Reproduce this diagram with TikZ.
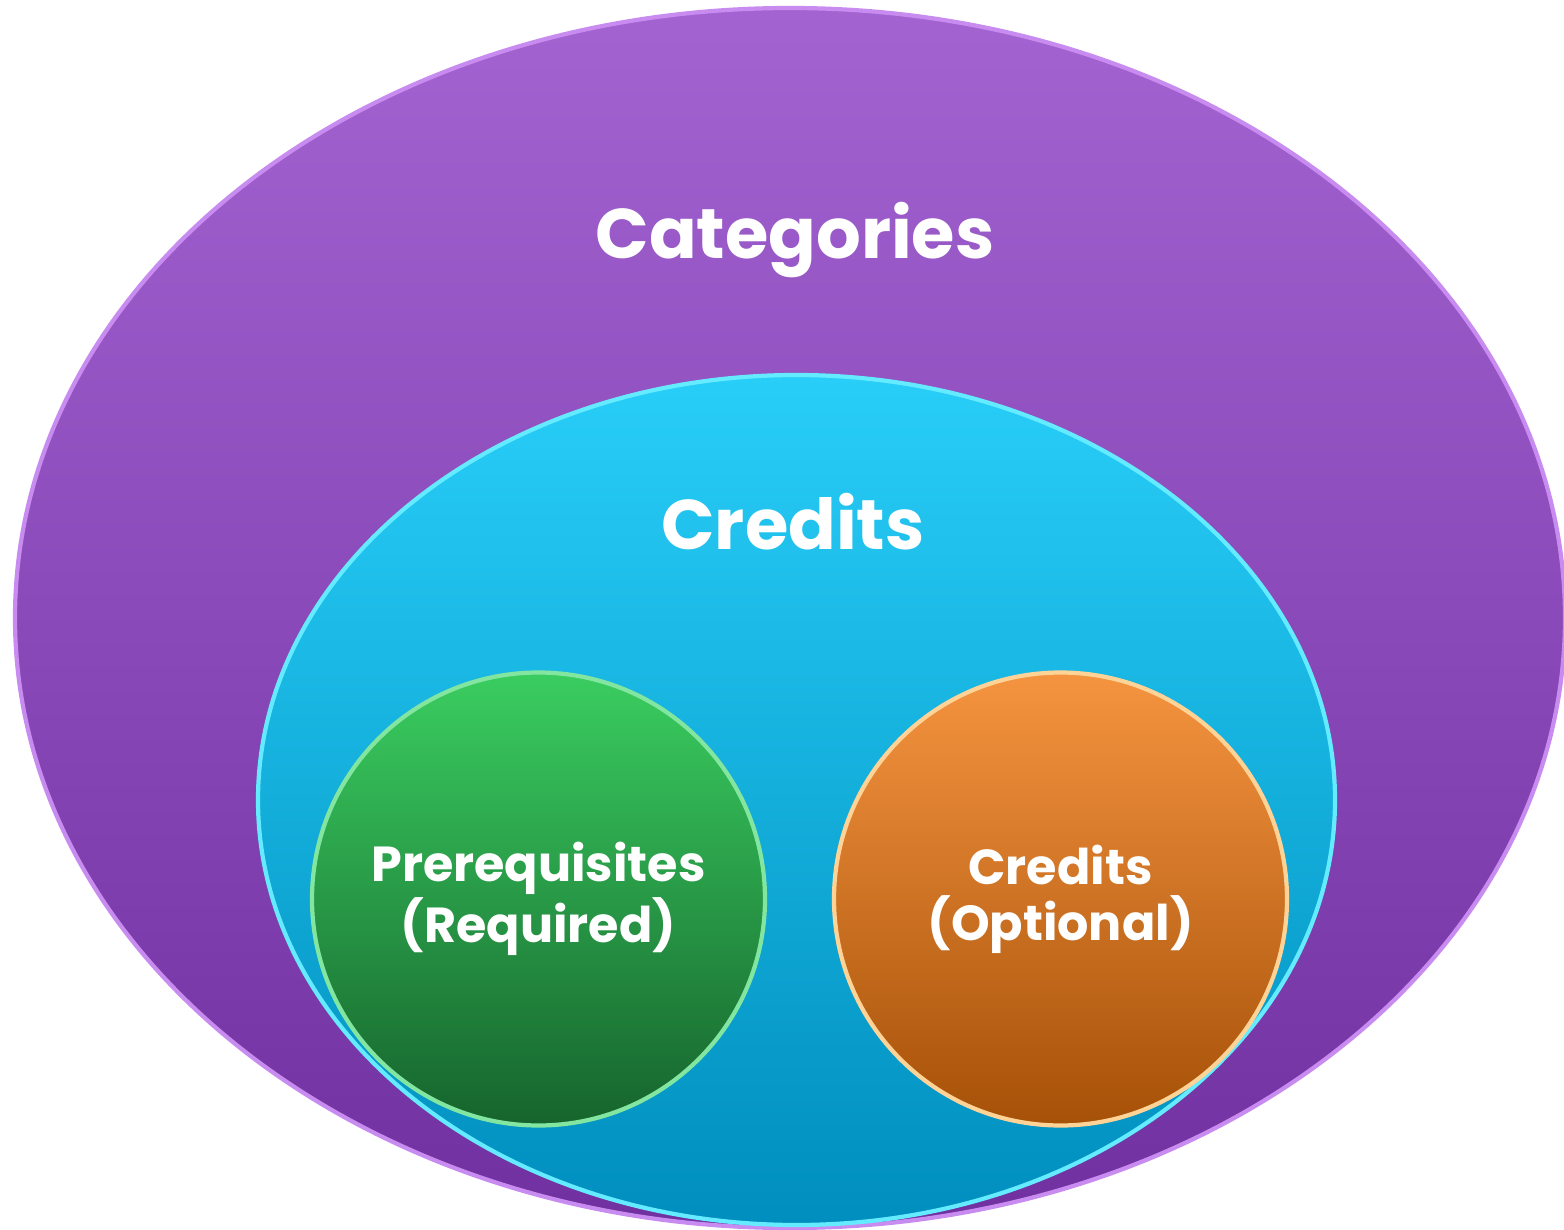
\documentclass[tikz,border=0pt]{standalone}
\usepackage{fontspec}
\setmainfont{Poppins}
\usetikzlibrary{shapes.geometric, positioning}
\definecolor{catTop}{RGB}{163,99,209}
\definecolor{catBot}{RGB}{112,48,160}
\definecolor{catEdge}{RGB}{200,140,240}
\definecolor{credTop}{RGB}{40,206,248}
\definecolor{credBot}{RGB}{0,142,190}
\definecolor{credEdge}{RGB}{100,235,255}
\definecolor{reqTop}{RGB}{58,205,96}
\definecolor{reqBot}{RGB}{22,100,45}
\definecolor{reqEdge}{RGB}{130,230,160}
\definecolor{optTop}{RGB}{245,148,64}
\definecolor{optBot}{RGB}{166,81,8}
\definecolor{optEdge}{RGB}{255,210,150}
\tikzstyle{outerset} = [ellipse, minimum width=15.5cm, minimum height=12.2cm, top color=catTop, bottom color=catBot, draw=catEdge, line width=1.2pt]
\tikzstyle{innerset} = [ellipse, minimum width=10.77cm, minimum height=8.5cm, top color=credTop, bottom color=credBot, draw=credEdge, line width=1.2pt]
\tikzstyle{bubble} = [circle, minimum size=4.53cm, line width=1.2pt, text=white, align=center, font=\bfseries\fontsize{14}{16}\selectfont]
\tikzstyle{biglabel} = [text=white, font=\bfseries\fontsize{20}{24}\selectfont]

\begin{document}
\begin{tikzpicture}
	\useasboundingbox (0,0) rectangle (15.64,-12.30);
	
		\node (categories) [outerset] at (7.90,-6.18) {};
		\node (credits) [innerset] at (7.965,-8.00) {};
		
		\node (required) [bubble, top color=reqTop, bottom color=reqBot, draw=reqEdge] at (5.385,-8.99) {Prerequisites\\(Required)};
		\node (optional) [bubble, top color=optTop, bottom color=optBot, draw=optEdge] at (10.605,-8.99) {Credits\\(Optional)};
		
		\node (categories-label) [biglabel] at (7.95,-2.40) {Categories};
		\node (credits-label) [biglabel] at (7.93,-5.22) {Credits};
	\end{tikzpicture}
\end{document}
